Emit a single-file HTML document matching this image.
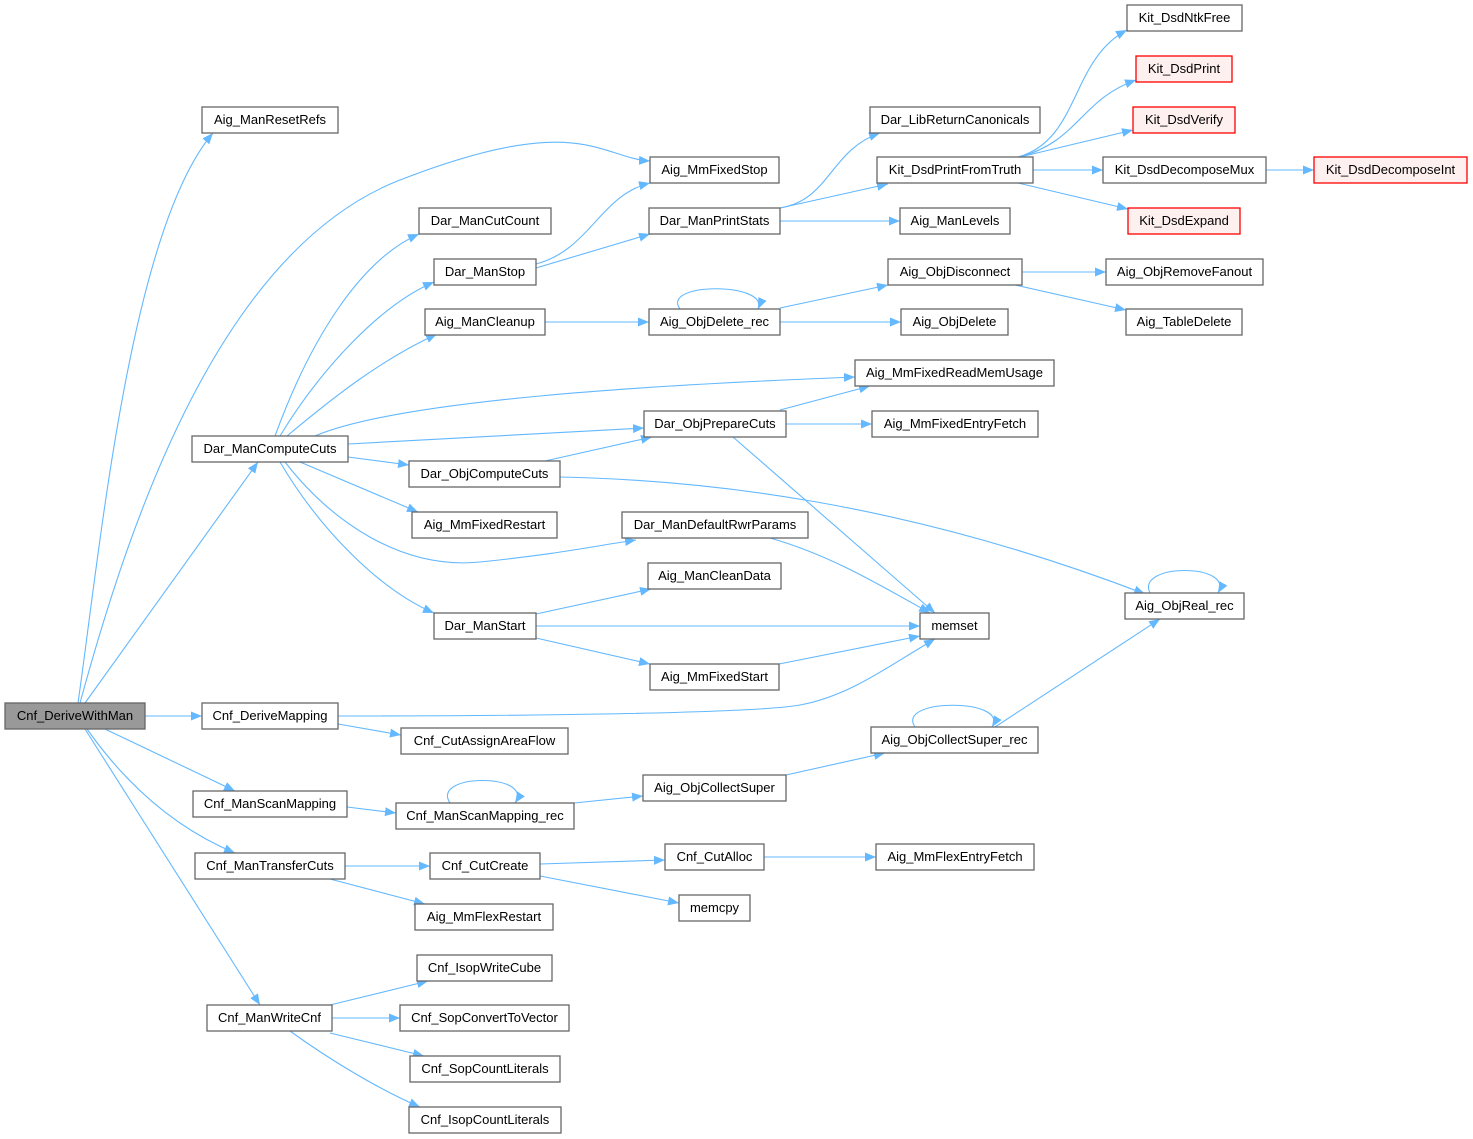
<!DOCTYPE html>
<html><head><meta charset="utf-8"><style>
html,body{margin:0;padding:0;background:#fff;}
svg{display:block;}
text{font-family:"Liberation Sans",Arial,sans-serif;font-size:13px;fill:#000;}
</style></head><body>
<svg width="1473" height="1139" viewBox="0 0 1473 1139" xmlns="http://www.w3.org/2000/svg">
<defs>
<marker id="a" markerWidth="12" markerHeight="10" refX="11" refY="4.5" orient="auto" markerUnits="userSpaceOnUse">
<path d="M0,0 L11,4.5 L0,9 z" fill="#63b8ff"/>
</marker>
</defs>
<g fill="none" stroke="#63b8ff" stroke-width="1.1" marker-end="url(#a)">
<path d="M78,703 C100,550 130,230 213,133"/>
<path d="M80,703 C130,520 220,250 400,180 S600,158 650,161"/>
<path d="M85,703 L258,462"/>
<path d="M145,716 L202,716"/>
<path d="M105,729 L235,791"/>
<path d="M87,729 C130,790 180,830 235,853"/>
<path d="M85,729 L260,1005"/>
<path d="M275,436 C310,340 360,260 419,234"/>
<path d="M280,436 C320,370 380,305 434,282"/>
<path d="M287,436 C330,400 380,360 437,334"/>
<path d="M315,436 C400,400 650,385 855,377"/>
<path d="M348,444 L644,428"/>
<path d="M348,457 L409,465"/>
<path d="M300,462 L418,512"/>
<path d="M285,462 C330,520 400,570 480,562 S600,545 636,540"/>
<path d="M280,462 C320,530 380,590 434,613"/>
<path d="M536,264 C590,250 600,195 650,183"/>
<path d="M536,268 L650,234"/>
<path d="M545,322 L649,322"/>
<path d="M680,309 C660,282 770,282 758,309"/>
<path d="M780,308 L888,285"/>
<path d="M780,322 L901,322"/>
<path d="M1022,272 L1106,272"/>
<path d="M1015,285 L1126,310"/>
<path d="M780,208 C830,200 830,150 880,133"/>
<path d="M780,208 L888,184"/>
<path d="M780,221 L900,221"/>
<path d="M1018,157 C1080,140 1070,60 1127,30"/>
<path d="M1020,157 C1080,140 1080,100 1136,80"/>
<path d="M1020,157 L1133,130"/>
<path d="M1033,170 L1103,170"/>
<path d="M1018,183 L1128,209"/>
<path d="M1266,170 L1314,170"/>
<path d="M780,410 L870,386"/>
<path d="M786,424 L872,424"/>
<path d="M733,437 L935,613"/>
<path d="M545,461 L652,437"/>
<path d="M560,477 C700,480 900,500 1145,594"/>
<path d="M770,538 C830,555 880,585 930,613"/>
<path d="M536,614 L651,589"/>
<path d="M536,626 L920,626"/>
<path d="M536,638 L650,664"/>
<path d="M779,664 L920,636"/>
<path d="M338,716 C500,716 750,714 800,705 S890,665 935,639"/>
<path d="M338,724 L401,735"/>
<path d="M1150,593 C1135,563 1235,563 1218,593"/>
<path d="M995,727 L1160,619"/>
<path d="M915,727 C895,698 1010,698 992,727"/>
<path d="M786,775 L885,753"/>
<path d="M347,807 L396,813"/>
<path d="M450,803 C430,773 535,773 515,803"/>
<path d="M574,803 L643,796"/>
<path d="M345,866 L430,866"/>
<path d="M330,879 L425,904"/>
<path d="M540,864 L665,860"/>
<path d="M540,876 L679,903"/>
<path d="M764,857 L876,857"/>
<path d="M330,1005 L428,981"/>
<path d="M332,1018 L400,1018"/>
<path d="M330,1033 L424,1056"/>
<path d="M290,1031 C330,1060 380,1090 420,1107"/>
</g>
<g stroke-width="1.3">
<rect x="5" y="703" width="140" height="26" fill="#999" stroke="#666"/>
<g fill="#fff" stroke="#666">
<rect x="202" y="107" width="136" height="26"/>
<rect x="650" y="157" width="129" height="26"/>
<rect x="419" y="208" width="132" height="26"/>
<rect x="434" y="259" width="102" height="26"/>
<rect x="425" y="309" width="120" height="26"/>
<rect x="192" y="436" width="156" height="26"/>
<rect x="409" y="461" width="151" height="26"/>
<rect x="412" y="512" width="145" height="26"/>
<rect x="434" y="613" width="102" height="26"/>
<rect x="202" y="703" width="136" height="26"/>
<rect x="401" y="728" width="167" height="26"/>
<rect x="193" y="791" width="154" height="26"/>
<rect x="396" y="803" width="178" height="26"/>
<rect x="195" y="853" width="150" height="26"/>
<rect x="430" y="853" width="110" height="26"/>
<rect x="415" y="904" width="138" height="26"/>
<rect x="207" y="1005" width="125" height="26"/>
<rect x="417" y="955" width="135" height="26"/>
<rect x="400" y="1005" width="169" height="26"/>
<rect x="410" y="1056" width="150" height="26"/>
<rect x="409" y="1107" width="152" height="26"/>
<rect x="649" y="208" width="131" height="26"/>
<rect x="649" y="309" width="131" height="26"/>
<rect x="644" y="411" width="142" height="26"/>
<rect x="622" y="512" width="186" height="26"/>
<rect x="648" y="563" width="133" height="26"/>
<rect x="650" y="664" width="129" height="26"/>
<rect x="643" y="775" width="143" height="26"/>
<rect x="665" y="844" width="99" height="26"/>
<rect x="679" y="895" width="71" height="26"/>
<rect x="870" y="107" width="170" height="26"/>
<rect x="877" y="157" width="156" height="26"/>
<rect x="900" y="208" width="110" height="26"/>
<rect x="888" y="259" width="134" height="26"/>
<rect x="901" y="309" width="107" height="26"/>
<rect x="855" y="360" width="199" height="26"/>
<rect x="872" y="411" width="166" height="26"/>
<rect x="920" y="613" width="69" height="26"/>
<rect x="871" y="727" width="167" height="26"/>
<rect x="876" y="844" width="158" height="26"/>
<rect x="1127" y="5" width="115" height="26"/>
<rect x="1103" y="157" width="163" height="26"/>
<rect x="1106" y="259" width="157" height="26"/>
<rect x="1126" y="309" width="116" height="26"/>
<rect x="1125" y="593" width="119" height="26"/>
</g>
<g fill="#fff0f0" stroke="#ff0000">
<rect x="1136" y="56" width="96" height="26"/>
<rect x="1133" y="107" width="102" height="26"/>
<rect x="1128" y="208" width="112" height="26"/>
<rect x="1314" y="157" width="153" height="26"/>
</g>
</g>
<g text-anchor="middle">
<text x="75" y="720">Cnf_DeriveWithMan</text>
<text x="270" y="124">Aig_ManResetRefs</text>
<text x="714.5" y="174">Aig_MmFixedStop</text>
<text x="485" y="225">Dar_ManCutCount</text>
<text x="485" y="276">Dar_ManStop</text>
<text x="485" y="326">Aig_ManCleanup</text>
<text x="270" y="453">Dar_ManComputeCuts</text>
<text x="484.5" y="478">Dar_ObjComputeCuts</text>
<text x="484.5" y="529">Aig_MmFixedRestart</text>
<text x="485" y="630">Dar_ManStart</text>
<text x="270" y="720">Cnf_DeriveMapping</text>
<text x="484.5" y="745">Cnf_CutAssignAreaFlow</text>
<text x="270" y="808">Cnf_ManScanMapping</text>
<text x="485" y="820">Cnf_ManScanMapping_rec</text>
<text x="270" y="870">Cnf_ManTransferCuts</text>
<text x="485" y="870">Cnf_CutCreate</text>
<text x="484" y="921">Aig_MmFlexRestart</text>
<text x="269.5" y="1022">Cnf_ManWriteCnf</text>
<text x="484.5" y="972">Cnf_IsopWriteCube</text>
<text x="484.5" y="1022">Cnf_SopConvertToVector</text>
<text x="485" y="1073">Cnf_SopCountLiterals</text>
<text x="485" y="1124">Cnf_IsopCountLiterals</text>
<text x="714.5" y="225">Dar_ManPrintStats</text>
<text x="714.5" y="326">Aig_ObjDelete_rec</text>
<text x="715" y="428">Dar_ObjPrepareCuts</text>
<text x="715" y="529">Dar_ManDefaultRwrParams</text>
<text x="714.5" y="580">Aig_ManCleanData</text>
<text x="714.5" y="681">Aig_MmFixedStart</text>
<text x="714.5" y="792">Aig_ObjCollectSuper</text>
<text x="714.5" y="861">Cnf_CutAlloc</text>
<text x="714.5" y="912">memcpy</text>
<text x="955" y="124">Dar_LibReturnCanonicals</text>
<text x="955" y="174">Kit_DsdPrintFromTruth</text>
<text x="955" y="225">Aig_ManLevels</text>
<text x="955" y="276">Aig_ObjDisconnect</text>
<text x="954.5" y="326">Aig_ObjDelete</text>
<text x="954.5" y="377">Aig_MmFixedReadMemUsage</text>
<text x="955" y="428">Aig_MmFixedEntryFetch</text>
<text x="954.5" y="630">memset</text>
<text x="954.5" y="744">Aig_ObjCollectSuper_rec</text>
<text x="955" y="861">Aig_MmFlexEntryFetch</text>
<text x="1184.5" y="22">Kit_DsdNtkFree</text>
<text x="1184" y="73">Kit_DsdPrint</text>
<text x="1184" y="124">Kit_DsdVerify</text>
<text x="1184.5" y="174">Kit_DsdDecomposeMux</text>
<text x="1184" y="225">Kit_DsdExpand</text>
<text x="1184.5" y="276">Aig_ObjRemoveFanout</text>
<text x="1184" y="326">Aig_TableDelete</text>
<text x="1184.5" y="610">Aig_ObjReal_rec</text>
<text x="1390.5" y="174">Kit_DsdDecomposeInt</text>
</g>
</svg>
</body></html>
